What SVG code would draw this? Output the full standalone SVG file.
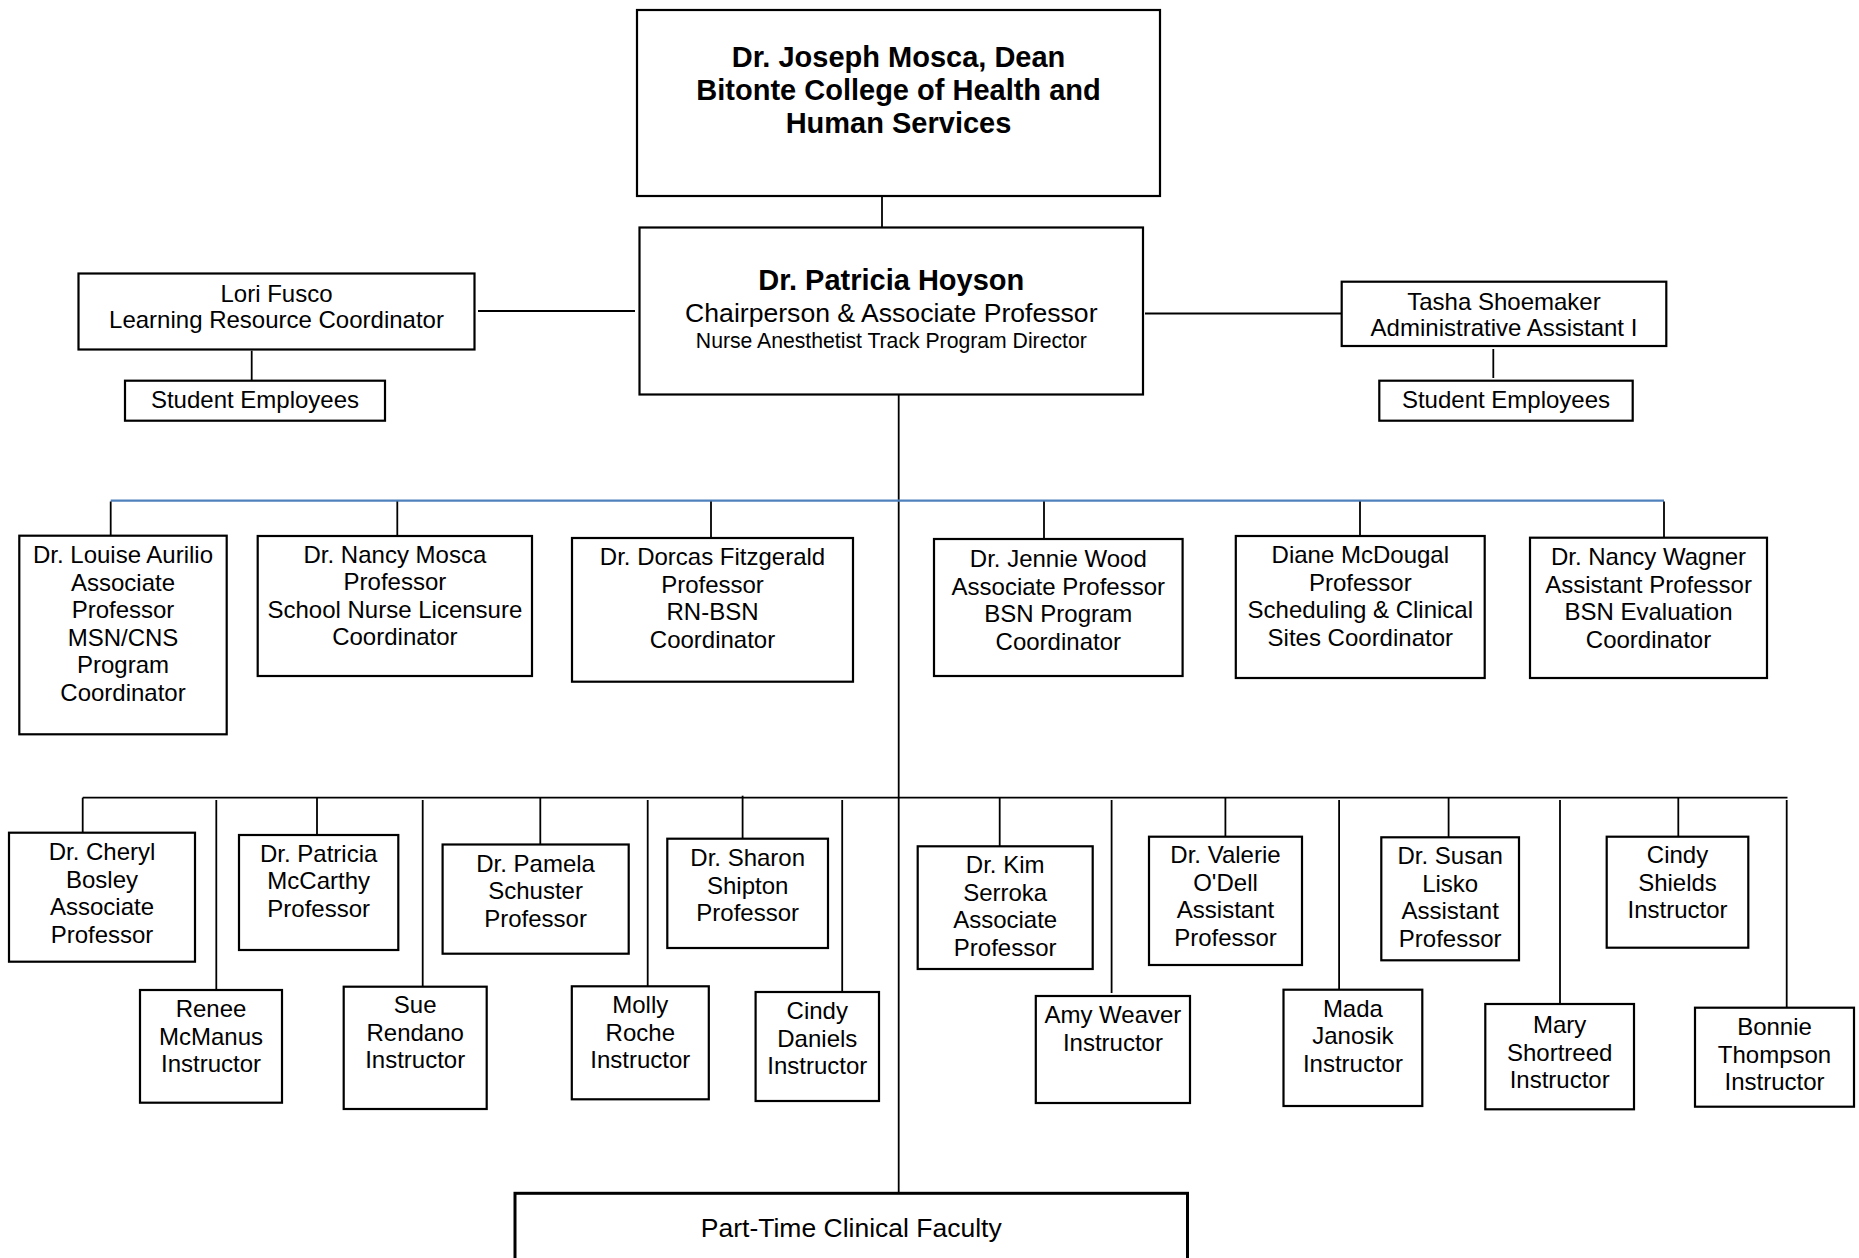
<svg xmlns="http://www.w3.org/2000/svg" width="1859" height="1258" viewBox="0 0 1859 1258">
<style>
.box{fill:#fff;stroke:#000;stroke-width:2.2}
.t{font-family:"Liberation Sans",Arial,sans-serif;font-size:24px;fill:#000;text-anchor:middle}
.b{font-weight:bold;font-size:29px}
.c{stroke:#000;stroke-width:1.8;fill:none}
.blue{stroke:#4F81BD;stroke-width:2.2;fill:none}
</style>
<rect width="1859" height="1258" fill="#fff"/>
<g id="connectors">
<line class="c" x1="882" y1="196" x2="882" y2="227.5"/>
<line class="c" x1="478" y1="311" x2="635" y2="311"/>
<line class="c" x1="1145" y1="313.5" x2="1341" y2="313.5"/>
<line class="c" x1="251.7" y1="350.7" x2="251.7" y2="380.7"/>
<line class="c" x1="1493.3" y1="349" x2="1493.3" y2="378"/>
<line class="c" x1="898.7" y1="394.5" x2="898.7" y2="1193"/>
<line class="blue" x1="110.7" y1="500.7" x2="1664" y2="500.7"/>
<line class="c" x1="110.7" y1="501.5" x2="110.7" y2="535.7"/>
<line class="c" x1="397.3" y1="501.5" x2="397.3" y2="536"/>
<line class="c" x1="711" y1="501.5" x2="711" y2="538"/>
<line class="c" x1="1044" y1="501.5" x2="1044" y2="539"/>
<line class="c" x1="1360" y1="501.5" x2="1360" y2="536"/>
<line class="c" x1="1664" y1="501.5" x2="1664" y2="537.7"/>
<line class="c" x1="82.7" y1="797.7" x2="1787.5" y2="797.7"/>
<line class="c" x1="82.7" y1="797.7" x2="82.7" y2="832.7"/>
<line class="c" x1="216.3" y1="800" x2="216.3" y2="990"/>
<line class="c" x1="317" y1="797.7" x2="317" y2="835"/>
<line class="c" x1="422.7" y1="800" x2="422.7" y2="986.7"/>
<line class="c" x1="540.3" y1="797.7" x2="540.3" y2="844.5"/>
<line class="c" x1="647.7" y1="800" x2="647.7" y2="986.3"/>
<line class="c" x1="742.6" y1="795.7" x2="742.6" y2="838.7"/>
<line class="c" x1="842.2" y1="800" x2="842.2" y2="992"/>
<line class="c" x1="999.7" y1="797.7" x2="999.7" y2="846.3"/>
<line class="c" x1="1111.6" y1="800" x2="1111.6" y2="993"/>
<line class="c" x1="1225.4" y1="797.7" x2="1225.4" y2="836.7"/>
<line class="c" x1="1339.1" y1="800" x2="1339.1" y2="989.7"/>
<line class="c" x1="1448.6" y1="797.7" x2="1448.6" y2="837.3"/>
<line class="c" x1="1560" y1="800" x2="1560" y2="1004"/>
<line class="c" x1="1678.3" y1="797.7" x2="1678.3" y2="836.7"/>
<line class="c" x1="1786.7" y1="800" x2="1786.7" y2="1007.7"/>
</g>
<g id="dean">
<rect class="box" x="637" y="10" width="523" height="186"/>
<text class="t b"><tspan x="898.5" y="66.7">Dr. Joseph Mosca, Dean</tspan><tspan x="898.5" y="100">Bitonte College of Health and</tspan><tspan x="898.5" y="133.3">Human Services</tspan></text>
</g>
<g id="hoyson">
<rect class="box" x="639.5" y="227.5" width="503.5" height="167"/>
<text class="t"><tspan class="b" x="891.3" y="290">Dr. Patricia Hoyson</tspan><tspan x="891.3" y="321.7" style="font-size:26.6px">Chairperson &amp; Associate Professor</tspan><tspan x="891.3" y="347.7" style="font-size:21.2px">Nurse Anesthetist Track Program Director</tspan></text>
</g>
<g id="fusco">
<rect class="box" x="78.5" y="273.5" width="396" height="76"/>
<text class="t"><tspan x="276.5" y="301.7">Lori Fusco</tspan><tspan x="276.5" y="328.3">Learning Resource Coordinator</tspan></text>
</g>
<g id="students-left">
<rect class="box" x="125" y="380.7" width="260" height="40"/>
<text class="t" x="255" y="408.3">Student Employees</text>
</g>
<g id="shoemaker">
<rect class="box" x="1341.7" y="281.7" width="324.6" height="64.3"/>
<text class="t"><tspan x="1504" y="310">Tasha Shoemaker</tspan><tspan x="1504" y="336">Administrative Assistant I</tspan></text>
</g>
<g id="students-right">
<rect class="box" x="1379.3" y="380.7" width="253.4" height="40"/>
<text class="t" x="1506" y="408.3">Student Employees</text>
</g>
<g id="aurilio">
<rect class="box" x="19.3" y="535.7" width="207.4" height="198.6"/>
<text class="t"><tspan x="123" y="563.3">Dr. Louise Aurilio</tspan><tspan x="123" y="590.8">Associate</tspan><tspan x="123" y="618.3">Professor</tspan><tspan x="123" y="645.8">MSN/CNS</tspan><tspan x="123" y="673.3">Program</tspan><tspan x="123" y="700.8">Coordinator</tspan></text>
</g>
<g id="nmosca">
<rect class="box" x="257.7" y="536" width="274.3" height="140"/>
<text class="t"><tspan x="394.9" y="562.7">Dr. Nancy Mosca</tspan><tspan x="394.9" y="590.2">Professor</tspan><tspan x="394.9" y="617.7">School Nurse Licensure</tspan><tspan x="394.9" y="645.2">Coordinator</tspan></text>
</g>
<g id="fitzgerald">
<rect class="box" x="572" y="538" width="281" height="143.7"/>
<text class="t"><tspan x="712.5" y="565">Dr. Dorcas Fitzgerald</tspan><tspan x="712.5" y="592.5">Professor</tspan><tspan x="712.5" y="620">RN-BSN</tspan><tspan x="712.5" y="647.5">Coordinator</tspan></text>
</g>
<g id="wood">
<rect class="box" x="934" y="539" width="248.6" height="137"/>
<text class="t"><tspan x="1058.3" y="567.3">Dr. Jennie Wood</tspan><tspan x="1058.3" y="594.8">Associate Professor</tspan><tspan x="1058.3" y="622.3">BSN Program</tspan><tspan x="1058.3" y="649.8">Coordinator</tspan></text>
</g>
<g id="mcdougal">
<rect class="box" x="1235.8" y="536" width="248.9" height="142"/>
<text class="t"><tspan x="1360.3" y="563.3">Diane McDougal</tspan><tspan x="1360.3" y="590.8">Professor</tspan><tspan x="1360.3" y="618.3">Scheduling &amp; Clinical</tspan><tspan x="1360.3" y="645.8">Sites Coordinator</tspan></text>
</g>
<g id="wagner">
<rect class="box" x="1530" y="537.7" width="237" height="140.3"/>
<text class="t"><tspan x="1648.5" y="565">Dr. Nancy Wagner</tspan><tspan x="1648.5" y="592.5">Assistant Professor</tspan><tspan x="1648.5" y="620">BSN Evaluation</tspan><tspan x="1648.5" y="647.5">Coordinator</tspan></text>
</g>
<g id="bosley">
<rect class="box" x="9" y="832.7" width="186" height="129"/>
<text class="t"><tspan x="102" y="860">Dr. Cheryl</tspan><tspan x="102" y="887.5">Bosley</tspan><tspan x="102" y="915">Associate</tspan><tspan x="102" y="942.5">Professor</tspan></text>
</g>
<g id="mcmanus">
<rect class="box" x="140" y="990" width="142" height="112.7"/>
<text class="t"><tspan x="211" y="1017.3">Renee</tspan><tspan x="211" y="1044.8">McManus</tspan><tspan x="211" y="1072.3">Instructor</tspan></text>
</g>
<g id="mccarthy">
<rect class="box" x="239" y="835" width="159.3" height="115"/>
<text class="t"><tspan x="318.7" y="861.7">Dr. Patricia</tspan><tspan x="318.7" y="889.2">McCarthy</tspan><tspan x="318.7" y="916.7">Professor</tspan></text>
</g>
<g id="rendano">
<rect class="box" x="343.7" y="986.7" width="143" height="122.3"/>
<text class="t"><tspan x="415.2" y="1013.3">Sue</tspan><tspan x="415.2" y="1040.8">Rendano</tspan><tspan x="415.2" y="1068.3">Instructor</tspan></text>
</g>
<g id="schuster">
<rect class="box" x="442.6" y="844.5" width="186.1" height="109.2"/>
<text class="t"><tspan x="535.6" y="871.7">Dr. Pamela</tspan><tspan x="535.6" y="899.2">Schuster</tspan><tspan x="535.6" y="926.7">Professor</tspan></text>
</g>
<g id="roche">
<rect class="box" x="571.8" y="986.3" width="137" height="113"/>
<text class="t"><tspan x="640.3" y="1013.3">Molly</tspan><tspan x="640.3" y="1040.8">Roche</tspan><tspan x="640.3" y="1068.3">Instructor</tspan></text>
</g>
<g id="shipton">
<rect class="box" x="667.3" y="838.7" width="160.7" height="109.3"/>
<text class="t"><tspan x="747.7" y="866">Dr. Sharon</tspan><tspan x="747.7" y="893.5">Shipton</tspan><tspan x="747.7" y="921">Professor</tspan></text>
</g>
<g id="daniels">
<rect class="box" x="755.6" y="992" width="123.4" height="109"/>
<text class="t"><tspan x="817.3" y="1019.3">Cindy</tspan><tspan x="817.3" y="1046.8">Daniels</tspan><tspan x="817.3" y="1074.3">Instructor</tspan></text>
</g>
<g id="serroka">
<rect class="box" x="917.7" y="846.3" width="175" height="122.7"/>
<text class="t"><tspan x="1005.2" y="873.3">Dr. Kim</tspan><tspan x="1005.2" y="900.8">Serroka</tspan><tspan x="1005.2" y="928.3">Associate</tspan><tspan x="1005.2" y="955.8">Professor</tspan></text>
</g>
<g id="weaver">
<rect class="box" x="1035.8" y="996" width="154.2" height="107"/>
<text class="t"><tspan x="1112.9" y="1023.3">Amy Weaver</tspan><tspan x="1112.9" y="1050.8">Instructor</tspan></text>
</g>
<g id="odell">
<rect class="box" x="1149" y="836.7" width="153" height="128.3"/>
<text class="t"><tspan x="1225.5" y="863.3">Dr. Valerie</tspan><tspan x="1225.5" y="890.8">O'Dell</tspan><tspan x="1225.5" y="918.3">Assistant</tspan><tspan x="1225.5" y="945.8">Professor</tspan></text>
</g>
<g id="janosik">
<rect class="box" x="1283.5" y="989.7" width="138.8" height="116.3"/>
<text class="t"><tspan x="1352.9" y="1016.7">Mada</tspan><tspan x="1352.9" y="1044.2">Janosik</tspan><tspan x="1352.9" y="1071.7">Instructor</tspan></text>
</g>
<g id="lisko">
<rect class="box" x="1381.3" y="837.3" width="137.7" height="123"/>
<text class="t"><tspan x="1450.2" y="864">Dr. Susan</tspan><tspan x="1450.2" y="891.5">Lisko</tspan><tspan x="1450.2" y="919">Assistant</tspan><tspan x="1450.2" y="946.5">Professor</tspan></text>
</g>
<g id="shortreed">
<rect class="box" x="1485.3" y="1004" width="148.7" height="105.3"/>
<text class="t"><tspan x="1559.7" y="1033.3">Mary</tspan><tspan x="1559.7" y="1060.8">Shortreed</tspan><tspan x="1559.7" y="1088.3">Instructor</tspan></text>
</g>
<g id="shields">
<rect class="box" x="1606.7" y="836.7" width="141.6" height="111"/>
<text class="t"><tspan x="1677.5" y="863.3">Cindy</tspan><tspan x="1677.5" y="890.8">Shields</tspan><tspan x="1677.5" y="918.3">Instructor</tspan></text>
</g>
<g id="thompson">
<rect class="box" x="1695" y="1007.7" width="159" height="99"/>
<text class="t"><tspan x="1774.5" y="1035">Bonnie</tspan><tspan x="1774.5" y="1062.5">Thompson</tspan><tspan x="1774.5" y="1090">Instructor</tspan></text>
</g>
<g id="parttime">
<rect class="box" x="515" y="1193.3" width="672.5" height="100" style="stroke-width:3"/>
<text class="t" x="851.3" y="1236.7" style="font-size:26.5px">Part-Time Clinical Faculty</text>
</g>
</svg>
